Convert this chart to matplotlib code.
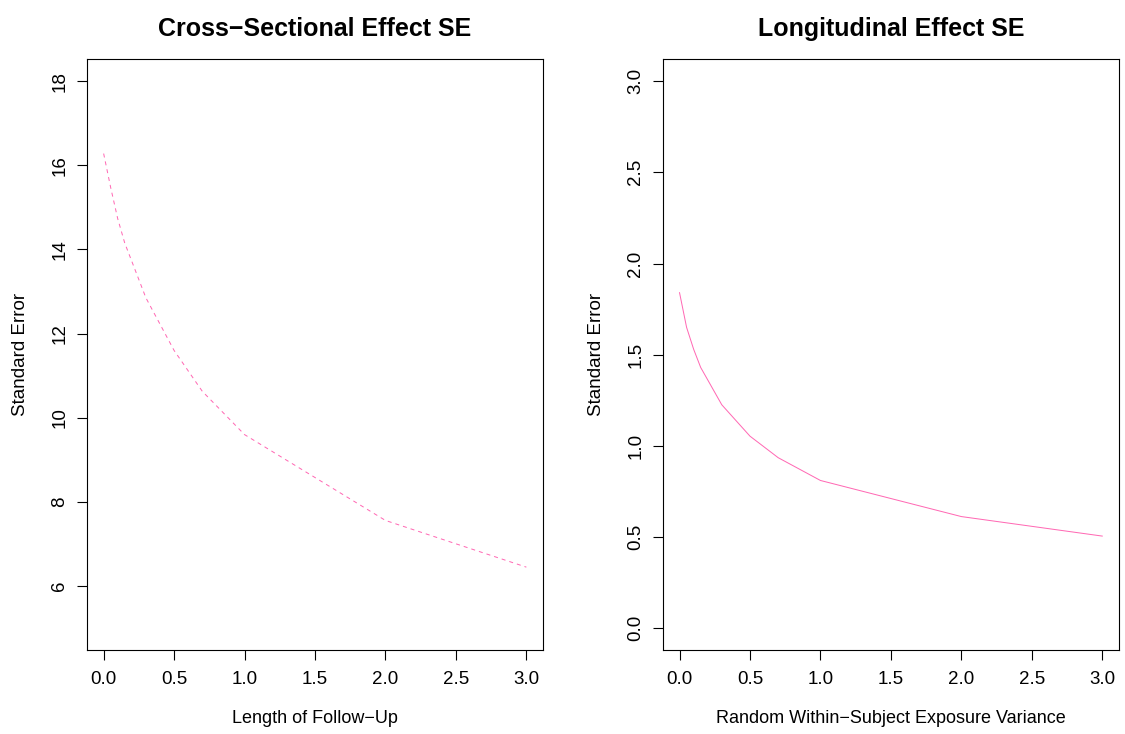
import matplotlib
matplotlib.use('Agg')
import matplotlib.pyplot as plt

x_followup = [0.0, 0.05, 0.1, 0.15, 0.3, 0.5, 0.7, 1.0, 2.0, 3.0]
se_cross = [16.28, 15.47, 14.73, 14.15, 12.85, 11.6, 10.63, 9.6, 7.56, 6.45]

x_variance = [0.0, 0.05, 0.1, 0.15, 0.3, 0.5, 0.7, 1.0, 2.0, 3.0]
se_long = [1.84, 1.65, 1.53, 1.43, 1.225, 1.053, 0.935, 0.81, 0.612, 0.505]

xticks = [0.0, 0.5, 1.0, 1.5, 2.0, 2.5, 3.0]
yticks_cross = [6, 8, 10, 12, 14, 16, 18]
yticks_long = [0.0, 0.5, 1.0, 1.5, 2.0, 2.5, 3.0]

cor = '#FF69B4'

plt.rcParams['font.family'] = ['Liberation Sans', 'DejaVu Sans']
plt.rcParams['font.size'] = 13

fig = plt.figure(figsize=(11.25, 7.34), dpi=100)
ax1 = fig.add_axes([0.0771, 0.1144, 0.4058, 0.8048])
ax2 = fig.add_axes([0.5890, 0.1144, 0.4058, 0.8048])


def estilo_r(ax, yticks, ylim, titulo, xlabel):
    """Deixa o eixo parecido com o plot base do R."""
    ax.set_xlim(-0.12, 3.12)
    ax.set_ylim(*ylim)
    ax.set_xticks(xticks)
    ax.set_xticklabels([f'{v:.1f}' for v in xticks])
    ax.set_yticks(yticks)
    if isinstance(yticks[0], float):
        ax.set_yticklabels([f'{v:.1f}' for v in yticks])
    else:
        ax.set_yticklabels([str(v) for v in yticks])
    ax.tick_params(direction='out', length=7.2, width=0.8, labelsize=13.5)
    ax.tick_params(axis='x', pad=8)
    ax.tick_params(axis='y', pad=6, labelrotation=90)
    for lbl in ax.get_yticklabels():
        lbl.set_va('center')
    for s in ax.spines.values():
        s.set_linewidth(0.8)
    ax.set_title(titulo, fontsize=18, fontweight='bold', pad=17)
    ax.set_xlabel(xlabel, fontsize=13)
    ax.xaxis.set_label_coords(0.5, -0.102)
    ax.set_ylabel('Standard Error', fontsize=13.5)
    ax.yaxis.set_label_coords(-0.127, 0.5)


ax1.plot(x_followup, se_cross, color=cor, linewidth=0.72, linestyle=(0, (4, 4)))
estilo_r(ax1, yticks_cross, (4.48, 18.52), 'Cross\u2212Sectional Effect SE',
         'Length of Follow\u2212Up')

ax2.plot(x_variance, se_long, color=cor, linewidth=0.72)
estilo_r(ax2, yticks_long, (-0.12, 3.12), 'Longitudinal Effect SE',
         'Random Within\u2212Subject Exposure Variance')

fig.savefig('out.png', dpi=100)
